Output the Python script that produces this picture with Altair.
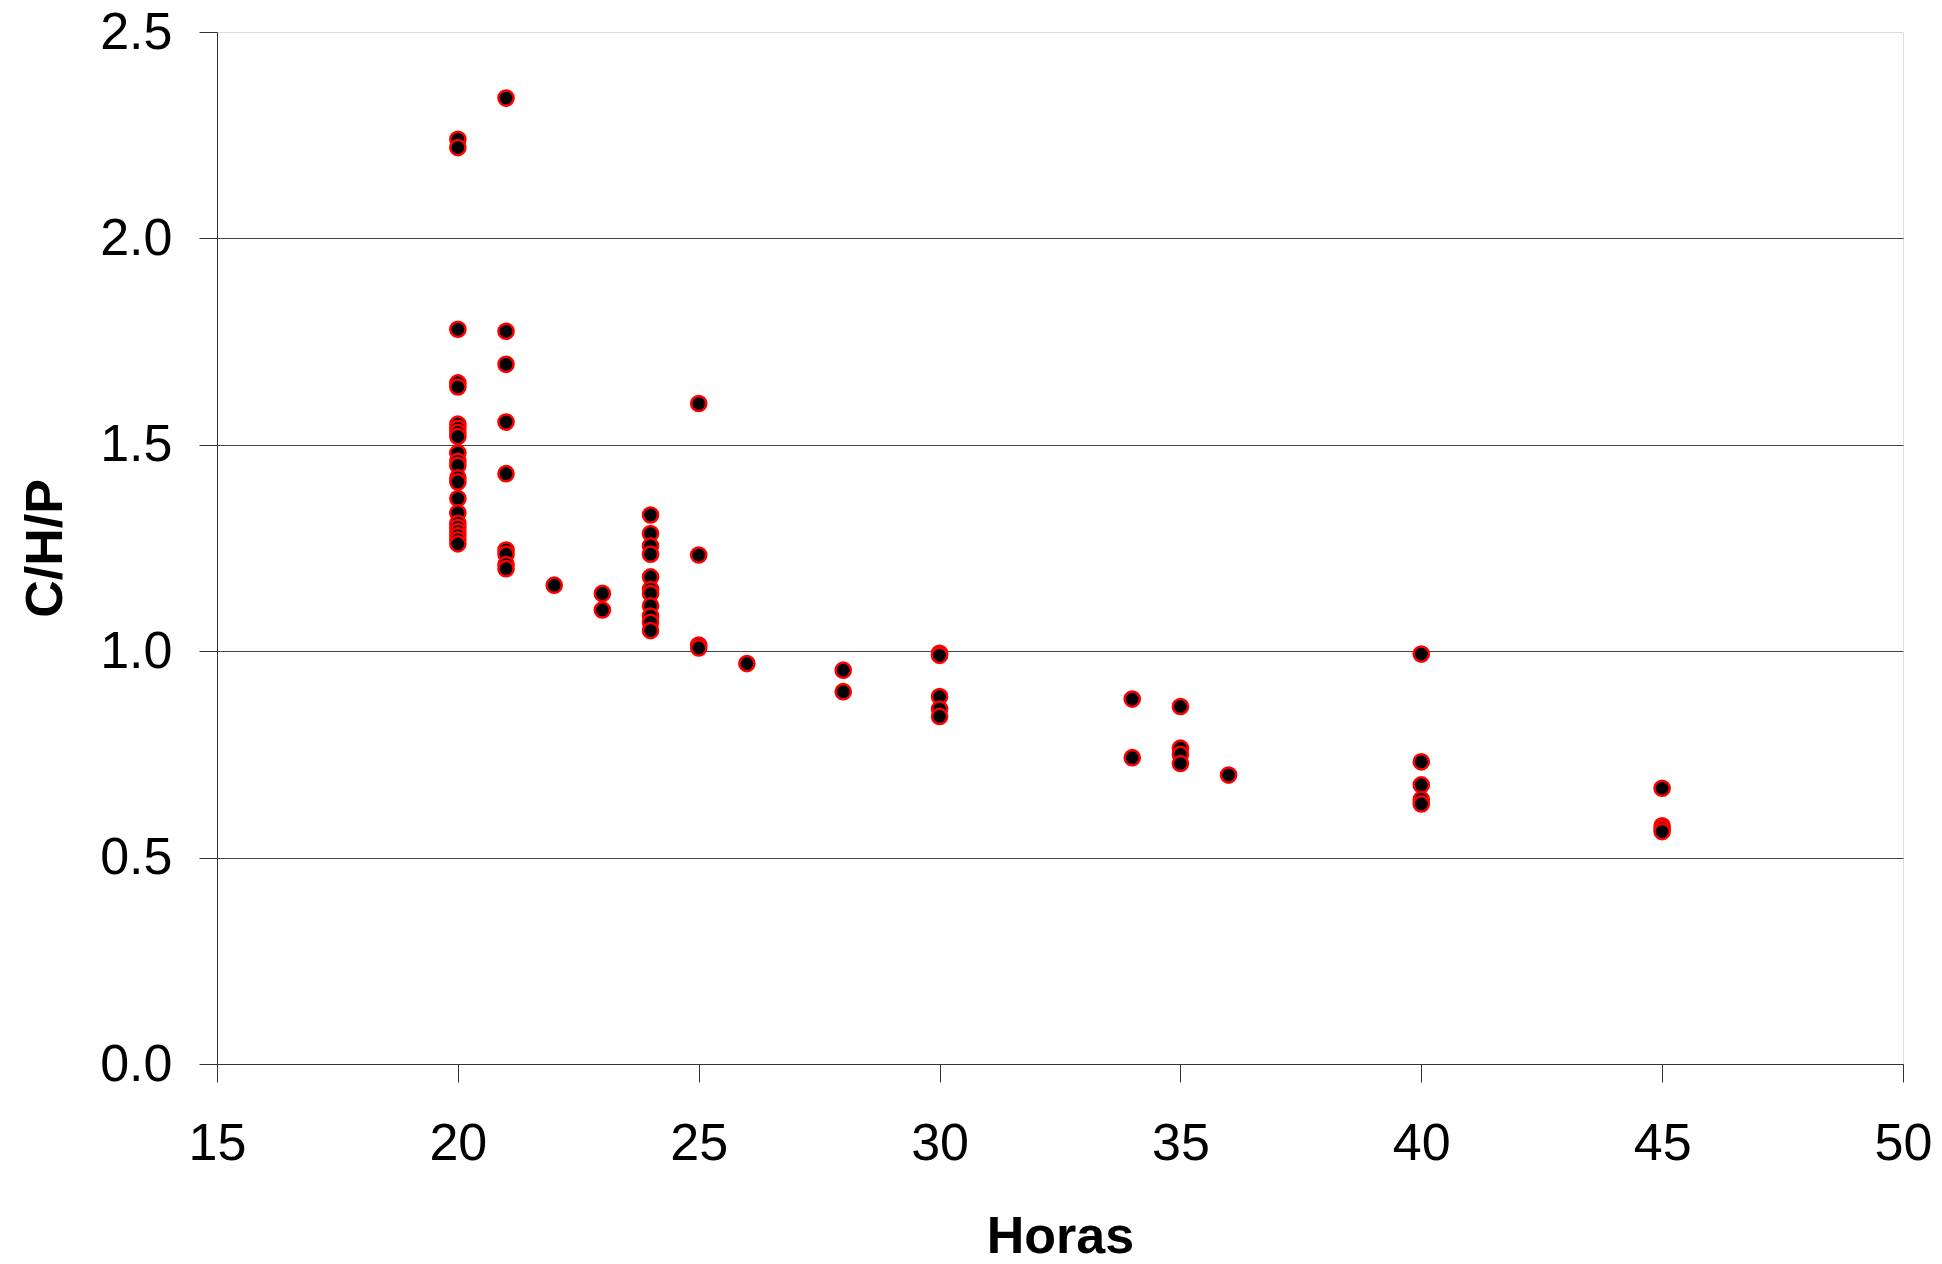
import altair as alt
import pandas as pd

horas_groups = [20, 21, 22, 23, 24, 25, 26, 28, 30, 34, 35, 36, 40, 45]
chp_20 = [2.24, 2.22, 1.78, 1.65, 1.64, 1.55, 1.54, 1.53, 1.52, 1.48, 1.46, 1.45,
          1.42, 1.41, 1.37, 1.335, 1.31, 1.30, 1.29, 1.28, 1.27, 1.26]
chp_21 = [2.34, 1.775, 1.695, 1.555, 1.43, 1.245, 1.235, 1.21, 1.20]
chp_22 = [1.16]
chp_23 = [1.14, 1.10]
chp_24 = [1.33, 1.285, 1.255, 1.235, 1.18, 1.15, 1.14, 1.11, 1.085, 1.07, 1.05]
chp_25 = [1.60, 1.233, 1.015, 1.008]
chp_26 = [0.97]
chp_28 = [0.954, 0.902]
chp_30 = [0.995, 0.99, 0.89, 0.86, 0.842]
chp_34 = [0.884, 0.742]
chp_35 = [0.866, 0.765, 0.75, 0.728]
chp_36 = [0.70]
chp_40 = [0.993, 0.732, 0.676, 0.641, 0.63]
chp_45 = [0.668, 0.577, 0.57, 0.563]

series = [chp_20, chp_21, chp_22, chp_23, chp_24, chp_25, chp_26, chp_28,
          chp_30, chp_34, chp_35, chp_36, chp_40, chp_45]

rows = []
for h, vals in zip(horas_groups, series):
    for v in vals:
        rows.append({"Horas": h, "CHP": v})
df = pd.DataFrame(rows)

x_ticks = [15, 20, 25, 30, 35, 40, 45, 50]
y_ticks = [0.0, 0.5, 1.0, 1.5, 2.0, 2.5]

FONT = "Liberation Sans"

chart = alt.Chart(df).mark_circle(
    size=230, color="black", stroke="#ff0000", strokeWidth=2.5, opacity=1
).encode(
    x=alt.X("Horas:Q",
            scale=alt.Scale(domain=[15, 50], nice=False, zero=False),
            axis=alt.Axis(values=x_ticks, format="d", title="Horas",
                          grid=False, tickSize=18, tickColor="#333",
                          domainColor="#333", labelFontSize=52, labelFlush=False,
                          labelPadding=36, labelFont=FONT, labelColor="black",
                          titleFont=FONT, titleFontSize=52, titleFontWeight="bold",
                          titleColor="black", titleY=172, titleBaseline="middle")),
    y=alt.Y("CHP:Q",
            scale=alt.Scale(domain=[0, 2.5], nice=False, zero=True),
            axis=alt.Axis(values=y_ticks, format=".1f", title="C/H/P",
                          grid=True, labelFlush=False,
                          gridColor={"condition": {"test": "datum.value === 2.5", "value": "#dddddd"}, "value": "#444444"},
                          tickSize=18, tickColor="#333", domainColor="#333",
                          labelFontSize=52, labelPadding=27, labelFont=FONT,
                          labelColor="black",
                          titleFont=FONT, titleFontSize=52, titleFontWeight="bold",
                          titleColor="black", titleAngle=-90, titleX=-172,
                          titleY=516, titleBaseline="middle", titleAlign="center")),
).properties(
    width=1686, height=1032,
    autosize=alt.AutoSizeParams(type="none"),
    padding={"left": 209, "top": 24, "right": 31, "bottom": 192},
).configure_view(stroke=None).configure(background="white")

chart.save("out.html", embed_options={"renderer": "svg", "actions": False})
